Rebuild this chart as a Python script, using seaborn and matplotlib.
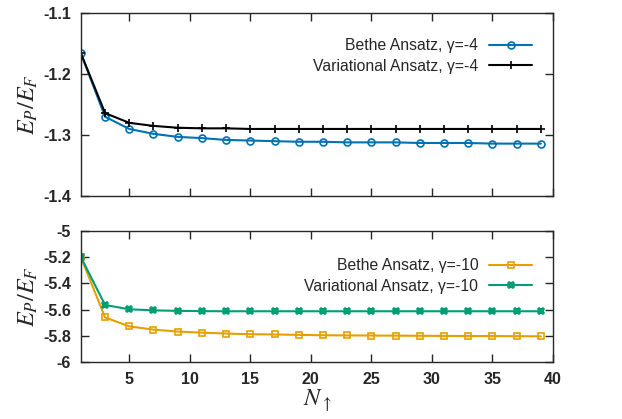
import numpy as np
import pandas as pd
import matplotlib
matplotlib.use("Agg")
from matplotlib import pyplot as plt
import seaborn as sns

# data
n_up = list(range(1, 40, 2))

bethe_g4 = [-1.166, -1.270, -1.290, -1.298, -1.303, -1.305, -1.308, -1.309, -1.310, -1.311,
            -1.311, -1.312, -1.312, -1.312, -1.313, -1.313, -1.313, -1.314, -1.314, -1.314]
var_g4 = [-1.166, -1.264, -1.280, -1.285, -1.288, -1.289, -1.289, -1.290, -1.290, -1.290,
          -1.290, -1.290, -1.290, -1.290, -1.290, -1.290, -1.290, -1.290, -1.290, -1.290]
bethe_g10 = [-5.20, -5.66, -5.728, -5.753, -5.768, -5.776, -5.783, -5.788, -5.790, -5.793,
             -5.796, -5.797, -5.798, -5.799, -5.800, -5.801, -5.802, -5.802, -5.803, -5.804]
var_g10 = [-5.20, -5.565, -5.598, -5.606, -5.610, -5.612, -5.613, -5.613, -5.613, -5.613,
           -5.613, -5.613, -5.613, -5.613, -5.613, -5.613, -5.613, -5.613, -5.613, -5.613]

labels_top = ["Bethe Ansatz, γ=-4", "Variational Ansatz, γ=-4"]
labels_bot = ["Bethe Ansatz, γ=-10", "Variational Ansatz, γ=-10"]
xticks = [5, 10, 15, 20, 25, 30, 35, 40]

sns.set_style("ticks")
plt.rcParams["font.family"] = ["Liberation Sans", "DejaVu Sans"]
plt.rcParams["mathtext.fontset"] = "stix"

fig = plt.figure(figsize=(6.22, 4.19), dpi=100)
ax1 = fig.add_axes([0.130, 0.532, 0.759, 0.437])
ax2 = fig.add_axes([0.130, 0.136, 0.759, 0.313])


def draw(ax, ys, labels, colors, markers, mfcs, sizes, anchor):
    for y, lab, c, m, mfc, ms in zip(ys, labels, colors, markers, mfcs, sizes):
        df = pd.DataFrame({"N": n_up, "E": y})
        sns.lineplot(data=df, x="N", y="E", ax=ax, color=c, marker=m, markersize=ms,
                     markerfacecolor=mfc, markeredgecolor=c, markeredgewidth=1.2,
                     linewidth=1.5, label=lab)
    ax.set_xlim(1, 40)
    ax.set_xticks(xticks)
    ax.tick_params(direction="in", top=True, right=True, length=6, width=1,
                   labelsize=11.5, pad=7)
    for s in ax.spines.values():
        s.set_linewidth(1.0)
    ax.set_ylabel(r"$E_P/E_F$", fontsize=17.5, labelpad=2)
    ax.legend(loc="upper right", bbox_to_anchor=anchor, frameon=False,
              markerfirst=False, handlelength=2.7, fontsize=11.3,
              labelspacing=0.35, handletextpad=0.7)


draw(ax1, [bethe_g4, var_g4], labels_top, ["#0072b2", "black"], ["o", "+"],
     ["none", "black"], [5, 6], (0.985, 0.94))
ax1.set_ylim(-1.4, -1.1)
ax1.set_yticks([-1.4, -1.3, -1.2, -1.1])
ax1.set_yticklabels(["-1.4", "-1.3", "-1.2", "-1.1"])
ax1.set_xticklabels([])
ax1.set_xlabel("")

draw(ax2, [bethe_g10, var_g10], labels_bot, ["#e69f00", "#009e73"], ["s", "X"],
     ["none", "#009e73"], [5, 5], (0.985, 0.90))
ax2.set_ylim(-6, -5)
ax2.set_yticks([-6, -5.8, -5.6, -5.4, -5.2, -5])
ax2.set_yticklabels(["-6", "-5.8", "-5.6", "-5.4", "-5.2", "-5"])
ax2.set_xticklabels([str(v) for v in xticks])
ax2.set_xlabel(r"$N_{\uparrow}$", fontsize=17.5, labelpad=1)

for ax in (ax1, ax2):
    for lbl in ax.get_xticklabels() + ax.get_yticklabels():
        lbl.set_fontweight("bold")

fig.savefig("out.png", dpi=100)
